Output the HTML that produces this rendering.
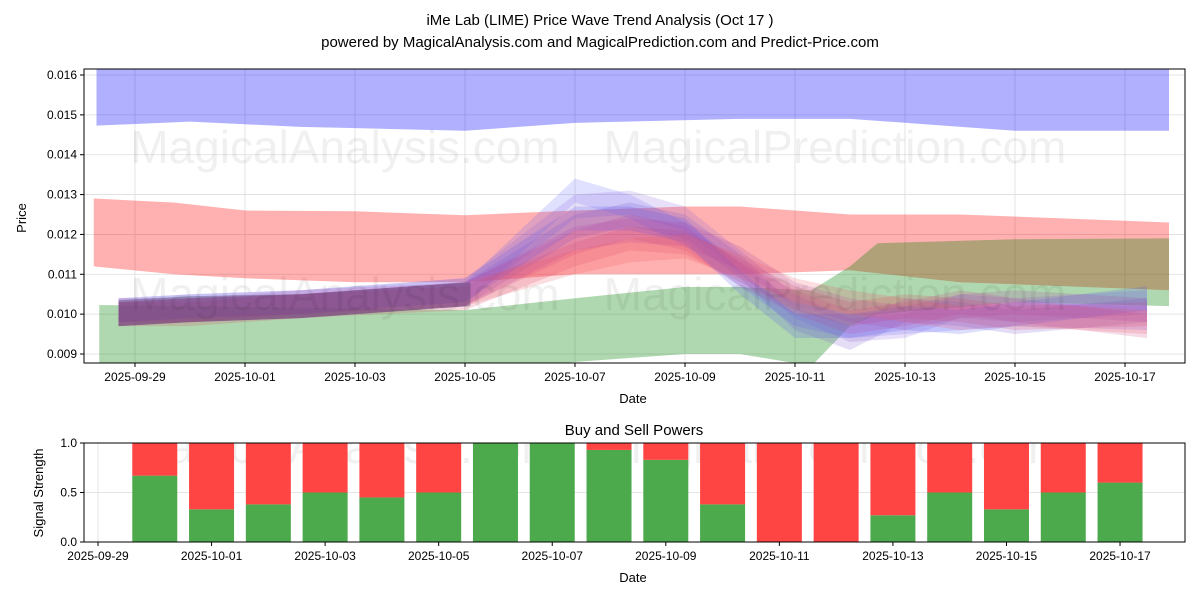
<!DOCTYPE html>
<html><head><meta charset="utf-8"><style>
body{margin:0;background:#fff;}
svg{font-family:"Liberation Sans","DejaVu Sans",sans-serif;}
</style></head><body>
<svg id="c" width="1200" height="600" xmlns="http://www.w3.org/2000/svg"></svg>
<script>
// ---- data ----
const topTicks=[0.009,0.010,0.011,0.012,0.013,0.014,0.015,0.016];
const dateLabels=["2025-09-29","2025-10-01","2025-10-03","2025-10-05","2025-10-07","2025-10-09","2025-10-11","2025-10-13","2025-10-15","2025-10-17"];
const dateOffsets=[0,2,4,6,8,10,12,14,16,18]; // days since 2025-09-29
const blueX=[-0.7,1,3,6,8,11,13,16,18.8];
const blueLow=[0.01473,0.01483,0.0147,0.0146,0.0148,0.0149,0.0149,0.0146,0.0146];
const redX=[-0.75,0.7,2,4,6,8,10,11,13,15,18.8];
const redTop=[0.0129,0.0128,0.0126,0.01258,0.01248,0.0126,0.0127,0.0127,0.0125,0.0125,0.0123];
const redLow=[0.0112,0.0110,0.0109,0.0108,0.0108,0.0110,0.0110,0.0110,0.0111,0.0108,0.0106];
const greenX=[-0.65,6,8,10,11,12.3,13,13.5,16,18.8];
const greenTop=[0.01023,0.0101,0.0104,0.01068,0.01068,0.0106,0.0112,0.01178,0.01188,0.0119];
const greenLow=[0.0086,0.0086,0.0088,0.0090,0.0090,0.0087,0.0097,0.0100,0.0103,0.0102];
const waveX=[-0.3,1,3,6,8,9,10,11,12,13,14,15,16,18.4];
const waves=[
 [0.0100,0.0101,0.0102,0.0105,0.0131,0.0127,0.0120,0.0110,0.0100,0.0097,0.0098,0.0099,0.0100,0.0099],
 [0.0101,0.0102,0.0103,0.0106,0.0127,0.0128,0.0124,0.0113,0.0102,0.0096,0.0097,0.0102,0.0101,0.0103],
 [0.0100,0.0101,0.0102,0.0105,0.0122,0.0125,0.0122,0.0112,0.0099,0.0094,0.0101,0.0100,0.0098,0.0101],
 [0.0101,0.0101,0.0103,0.0105,0.0118,0.0122,0.0119,0.0110,0.0103,0.0098,0.0100,0.0103,0.0101,0.0097],
 [0.0100,0.0100,0.0102,0.0104,0.0115,0.0119,0.0118,0.0111,0.0104,0.0100,0.0102,0.0101,0.0099,0.0100],
 [0.0101,0.0102,0.0103,0.0106,0.0124,0.0124,0.0121,0.0108,0.0097,0.0097,0.0099,0.0098,0.0100,0.0104],
 [0.0100,0.0101,0.0102,0.0105,0.0119,0.0121,0.0120,0.0114,0.0105,0.0101,0.0099,0.0102,0.0103,0.0101],
 [0.0100,0.0101,0.0102,0.0105,0.0113,0.0116,0.0117,0.0112,0.0106,0.0103,0.0101,0.0099,0.0100,0.0098]
];
const waveColors=["#6666ff","#8866dd","#7755cc","#cc4488","#dd4466","#5555ee","#aa44aa","#ee5566"];
const barDays=[1,2,3,4,5,6,7,8,9,10,11,12,13,14,15,16,17,18];
const buyVals=[0.67,0.33,0.38,0.5,0.45,0.5,1.0,1.0,0.93,0.83,0.38,0,0,0.27,0.5,0.33,0.5,0.6];
const sigTicks=[0,0.5,1.0];

// ---- axes ----
const NS="http://www.w3.org/2000/svg";
const svg=document.getElementById('c');
function el(t,a,p){const e=document.createElementNS(NS,t);for(const k in a)e.setAttribute(k,a[k]);(p||svg).appendChild(e);return e;}
const T={l:84,r:1185,t:69,b:363};
const xT=d=>135+d*55;
const yT=v=>75+(0.016-v)*39857;
const B={l:84,r:1185,t:443,b:542};
const xB=d=>98+d*56.78;
const yB=v=>542-v*99;

let t=el('text',{x:600,y:25,'text-anchor':'middle','font-size':15});t.textContent="iMe Lab (LIME) Price Wave Trend Analysis (Oct 17 )";

t=el('text',{x:600,y:47,'text-anchor':'middle','font-size':15});t.textContent="powered by MagicalAnalysis.com and MagicalPrediction.com and Predict-Price.com";


const defs=el('defs',{});
const cp=el('clipPath',{id:'ct'},defs);el('rect',{x:T.l,y:T.t,width:T.r-T.l,height:T.b-T.t},cp);
const cp2=el('clipPath',{id:'cb'},defs);el('rect',{x:B.l,y:B.t,width:B.r-B.l,height:B.b-B.t},cp2);

const gT=el('g',{'clip-path':'url(#ct)'});

topTicks.forEach(v=>el('line',{x1:T.l,x2:T.r,y1:yT(v),y2:yT(v),stroke:'#ddd','stroke-width':0.8},gT));
dateOffsets.forEach(d=>el('line',{x1:xT(d),x2:xT(d),y1:T.t,y2:T.b,stroke:'#ddd','stroke-width':0.8},gT));
[[345,163,'MagicalAnalysis.com'],[835,163,'MagicalPrediction.com'],[345,310,'MagicalAnalysis.com'],[835,310,'MagicalPrediction.com']].forEach(w=>{
 const e=el('text',{x:w[0],y:w[1],'text-anchor':'middle','font-size':46,fill:'#000','fill-opacity':0.06});e.textContent=w[2];
 });
function band(xs,top,low,color,op,name,g){
 let pts=xs.map((d,i)=>xT(d)+','+yT(top[i]));
 for(let i=xs.length-1;i>=0;i--)pts.push(xT(xs[i])+','+yT(low[i]));
 const p=el('polygon',{points:pts.join(' '),fill:color,'fill-opacity':op},g);
 return p;}
band(blueX,blueX.map(()=>0.0163),blueLow,'#0000ff',0.31,'blue-band',gT);
band(redX,redTop,redLow,'#ff0000',0.31,'red-band',gT);
band(greenX,greenTop,greenLow,'#008000',0.31,'green-band',gT);
waves.forEach((w,i)=>{
 band(waveX,w.map(v=>v+0.0003),w.map(v=>v-0.0003),waveColors[i],0.2,'wave-band',gT);
});
band([-0.3,1,3,6.1],[0.01035,0.01045,0.0105,0.0108],[0.0097,0.0098,0.0099,0.0102],'#4a3a6a',0.4,'wave-core',gT);

el('rect',{x:T.l,y:T.t,width:T.r-T.l,height:T.b-T.t,fill:'none',stroke:'#000','stroke-width':1});
topTicks.forEach(v=>{el('line',{x1:T.l-4,x2:T.l,y1:yT(v),y2:yT(v),stroke:'#000'});
 const e=el('text',{x:T.l-7,y:yT(v)+4,'text-anchor':'end','font-size':12});e.textContent=v.toFixed(3);
 });
dateOffsets.forEach((d,i)=>{el('line',{x1:xT(d),x2:xT(d),y1:T.b,y2:T.b+4,stroke:'#000'});
 const e=el('text',{x:xT(d),y:T.b+18,'text-anchor':'middle','font-size':12});e.textContent=dateLabels[i];
 });
t=el('text',{x:633,y:403,'text-anchor':'middle','font-size':13});t.textContent='Date';

t=el('text',{x:26,y:218,'text-anchor':'middle','font-size':13,transform:'rotate(-90 26 218)'});t.textContent='Price';


t=el('text',{x:634,y:435,'text-anchor':'middle','font-size':15});t.textContent='Buy and Sell Powers';

const gB=el('g',{'clip-path':'url(#cb)'});

sigTicks.forEach(v=>el('line',{x1:B.l,x2:B.r,y1:yB(v),y2:yB(v),stroke:'#ddd','stroke-width':0.8},gB));
dateOffsets.forEach(d=>el('line',{x1:xB(d),x2:xB(d),y1:B.t,y2:B.b,stroke:'#ddd','stroke-width':0.8},gB));
[[345,463,'MagicalAnalysis.com'],[835,463,'MagicalPrediction.com']].forEach(w=>{
 const e=el('text',{x:w[0],y:w[1],'text-anchor':'middle','font-size':46,fill:'#000','fill-opacity':0.06},gB);e.textContent=w[2];
 });
const bw=45;
barDays.forEach((d,i)=>{
 const x=xB(d)-bw/2,b=buyVals[i];
 const g=el('rect',{x:x,y:yB(b),width:bw,height:yB(0)-yB(b),fill:'#4caa4c'},gB);
 
 const r=el('rect',{x:x,y:yB(1),width:bw,height:yB(b)-yB(1),fill:'#ff4444'},gB);
 
});
el('rect',{x:B.l,y:B.t,width:B.r-B.l,height:B.b-B.t,fill:'none',stroke:'#000','stroke-width':1});
sigTicks.forEach(v=>{el('line',{x1:B.l-4,x2:B.l,y1:yB(v),y2:yB(v),stroke:'#000'});
 const e=el('text',{x:B.l-7,y:yB(v)+4,'text-anchor':'end','font-size':12});e.textContent=v.toFixed(1);
 });
dateOffsets.forEach((d,i)=>{el('line',{x1:xB(d),x2:xB(d),y1:B.b,y2:B.b+4,stroke:'#000'});
 const e=el('text',{x:xB(d),y:B.b+18,'text-anchor':'middle','font-size':12});e.textContent=dateLabels[i];
 });
t=el('text',{x:633,y:582,'text-anchor':'middle','font-size':13});t.textContent='Date';

t=el('text',{x:43,y:493,'text-anchor':'middle','font-size':13,transform:'rotate(-90 43 493)'});t.textContent='Signal Strength';

</script>
</body></html>
